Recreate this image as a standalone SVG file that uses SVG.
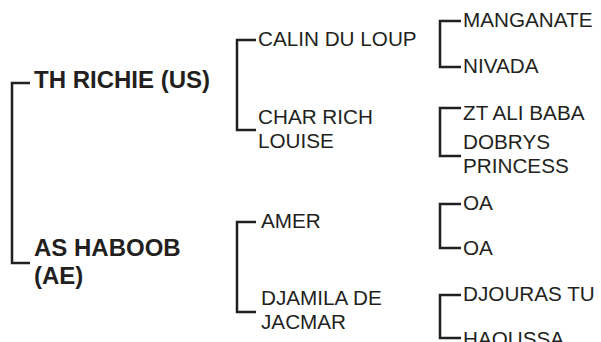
<svg xmlns="http://www.w3.org/2000/svg" width="601" height="342" viewBox="0 0 601 342">
<style>
.b{font-family:"Liberation Sans",Arial,sans-serif;font-weight:bold;font-size:24px;fill:#231f20}
.r{font-family:"Liberation Sans",Arial,sans-serif;font-size:20.7px;fill:#231f20}
.c{fill:none;stroke:#231f20;stroke-width:2.5}
</style>
<rect width="601" height="342" fill="#fff"/>
<g id="connectors">
<path class="c" d="M30,83H12V263H30"/>
<path class="c" d="M256,40H237V130H256"/>
<path class="c" d="M256,222H237V312H256"/>
<path class="c" d="M461,21H440V67H461"/>
<path class="c" d="M461,108H440V156H461"/>
<path class="c" d="M461,204H440V248H461"/>
<path class="c" d="M461,295H440V338H461"/>
</g>
<g id="n-th-richie"><text class="b" x="34" y="88">TH RICHIE (US)</text></g>
<g id="n-as-haboob"><text class="b" x="34" y="256">AS HABOOB</text><text class="b" x="34" y="284">(AE)</text></g>
<g id="n-calin"><text class="r" x="258" y="46">CALIN DU LOUP</text></g>
<g id="n-char-rich"><text class="r" x="258" y="124">CHAR RICH</text><text class="r" x="258" y="148">LOUISE</text></g>
<g id="n-amer"><text class="r" x="261" y="228">AMER</text></g>
<g id="n-djamila"><text class="r" x="261" y="305">DJAMILA DE</text><text class="r" x="261" y="329">JACMAR</text></g>
<g id="n-manganate"><text class="r" x="463" y="27">MANGANATE</text></g>
<g id="n-nivada"><text class="r" x="463" y="73">NIVADA</text></g>
<g id="n-zt-ali-baba"><text class="r" x="463" y="120">ZT ALI BABA</text></g>
<g id="n-dobrys"><text class="r" x="463" y="149">DOBRYS</text><text class="r" x="463" y="173">PRINCESS</text></g>
<g id="n-oa1"><text class="r" x="463" y="210">OA</text></g>
<g id="n-oa2"><text class="r" x="463" y="255">OA</text></g>
<g id="n-djouras"><text class="r" x="463" y="301">DJOURAS TU</text></g>
<g id="n-haoussa"><text class="r" x="463" y="346">HAOUSSA</text></g>
</svg>
